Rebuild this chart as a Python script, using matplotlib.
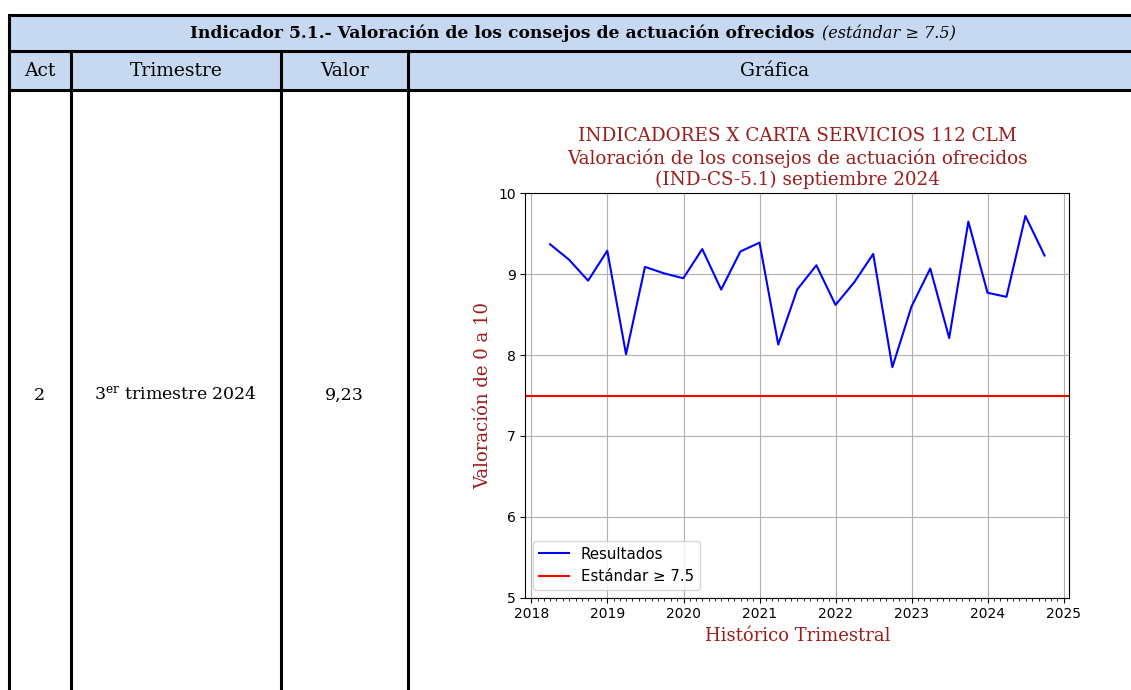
import matplotlib
matplotlib.use("Agg")
import matplotlib.dates as mdates
import matplotlib.pyplot as plt
import pandas as pd

# --- data ---
indicator_title = "Indicador 5.1.- Valoración de los consejos de actuación ofrecidos"
indicator_std = "(estándar ≥ 7.5)"
col_headers = ["Act", "Trimestre", "Valor", "Gráfica"]
row_act = "2"
row_quarter = "3$^{\\mathrm{er}}$ trimestre 2024"
row_value = "9,23"

quarters = pd.date_range("2018-03-31", periods=27, freq="QE")
results = [9.37, 9.18, 8.92, 9.29, 8.01, 9.09, 9.01, 8.95, 9.31, 8.81,
           9.28, 9.39, 8.13, 8.81, 9.11, 8.62, 8.90, 9.25, 7.85, 8.60,
           9.07, 8.21, 9.65, 8.77, 8.72, 9.72, 9.23]
standard = 7.5

W, H = 1131, 690
header_blue = "#c6d9f1"
title_red = "#9e1b1b"

plt.rcParams["mathtext.fontset"] = "dejavuserif"

fig = plt.figure(figsize=(W / 100, H / 100), dpi=100)

# background axes in pixel coordinates for the table
bg = fig.add_axes([0, 0, 1, 1])
bg.set_xlim(0, W)
bg.set_ylim(H, 0)
bg.axis("off")

left, c1, c2, c3, right = 8.7, 71, 281, 408, 1141
top, r1, r2 = 15, 51, 90

bg.add_patch(plt.Rectangle((left, top), right - left, r2 - top, facecolor=header_blue, edgecolor="none"))
lw = 2.2
for y in [top, r1, r2]:
    bg.plot([left, right], [y, y], color="black", lw=lw, solid_capstyle="butt")
bg.plot([left, left], [top, H], color="black", lw=lw)
for x in [c1, c2, c3]:
    bg.plot([x, x], [r1, H], color="black", lw=lw)

bg.text(815, (top + r1) / 2, indicator_title, ha="right", va="center",
        fontsize=12.3, fontweight="bold", family="DejaVu Serif")
bg.text(822, (top + r1) / 2 + 1, indicator_std, ha="left", va="center",
        fontsize=11.6, style="italic", family="DejaVu Serif")

centers = [(left + c1) / 2, (c1 + c2) / 2, (c2 + c3) / 2, (c3 + right) / 2]
for cx, label in zip(centers, col_headers):
    bg.text(cx, (r1 + r2) / 2, label, ha="center", va="center", fontsize=13.5, family="DejaVu Serif")

for cx, label in zip(centers[:3], [row_act, row_quarter, row_value]):
    bg.text(cx, 395, label, ha="center", va="center", fontsize=12.5, family="DejaVu Serif")

# chart
ax = fig.add_axes([525.3 / W, 1 - 597.7 / H, (1069.3 - 525.3) / W, (597.7 - 193.3) / H])
ax.plot(quarters, results, color="blue", label="Resultados")
ax.axhline(standard, color="red", label="Estándar ≥ 7.5")
ax.set_ylim(5, 10)
ax.set_yticks([5, 6, 7, 8, 9, 10])
ax.xaxis.set_major_locator(mdates.YearLocator())
ax.xaxis.set_major_formatter(mdates.DateFormatter("%Y"))
ax.xaxis.set_minor_locator(mdates.MonthLocator())
ax.tick_params(labelsize=10)
ax.grid(True)
ax.set_title("INDICADORES X CARTA SERVICIOS 112 CLM\nValoración de los consejos de actuación ofrecidos\n(IND-CS-5.1) septiembre 2024",
             color=title_red, family="DejaVu Serif", fontsize=13.2)
ax.set_xlabel("Histórico Trimestral", color=title_red, family="DejaVu Serif", fontsize=13)
ax.set_ylabel("Valoración de 0 a 10", color=title_red, family="DejaVu Serif", fontsize=13)
ax.legend(loc="lower left", fontsize=10.8)

fig.savefig("out.png", dpi=100)
